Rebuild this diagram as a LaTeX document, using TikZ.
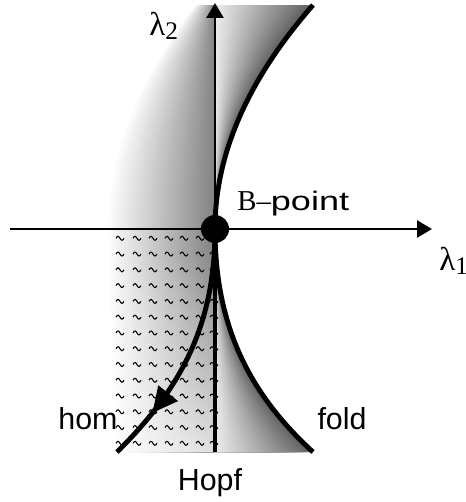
\documentclass[tikz,border=0pt]{standalone}
\usepackage{fontspec}
\setmainfont{Liberation Serif}
\setsansfont{Liberation Sans}
\usepackage{tikz}
\usetikzlibrary{arrows.meta,decorations.markings,fadings}
\newcommand{\lamsub}[1]{λ\raisebox{-3.5pt}{\fontsize{18}{18}\selectfont #1}}

\begin{document}
\begin{tikzpicture}[x=0.025cm, y=-0.025cm]
  \tikzstyle{axisarr}=[line width=1.9pt, -{Triangle[length=10.6pt,width=12pt]}]
  \tikzstyle{branch}=[line width=3.5pt]
  \tikzstyle{lab}=[font=\fontsize{21.6}{26}\selectfont\sffamily, inner sep=0pt, anchor=base]
  \tikzstyle{lam}=[font=\fontsize{23.5}{28}\selectfont, inner sep=0pt, anchor=base west]
  \tikzstyle{bdot}=[circle, fill=black, inner sep=0pt, minimum size=0.7cm]
  \tikzstyle{wave}=[line width=0.75pt]
  \useasboundingbox (0,0) rectangle (466,502);
  % end points
  \coordinate (B) at (215,229);
  \coordinate (xs) at (10,229);
  \coordinate (xe) at (432,229);
  \coordinate (ytop) at (215,3);
  \coordinate (hb) at (215,452);
  \coordinate (ft) at (313,5);
  \coordinate (fb) at (313,452);
  \coordinate (hm) at (117,452);
  % left band, white -> grey towards the axis
  \foreach \k in {0,...,29}{
    \pgfmathsetmacro\f{1-\k/30}
    \pgfmathsetmacro\g{48*\k/29}
    \fill[black!\g] ({215-20*\f},5) .. controls ({215-80*\f},79.7) and ({215-110*\f},154.3) .. ({215-110*\f},229)
      -- ({215-103*\f},452) -- (215,452) -- (215,5) -- cycle;
  }
  \fill[white, path fading=north, fill opacity=0.75] (100,250) rectangle (215,452);
  % right of the axis, dark at the fold -> light at the axis
  \foreach \k in {0,...,29}{
    \pgfmathsetmacro\f{1-\k/30}
    \pgfmathsetmacro\g{62-54*\k/29}
    \fill[black!\g] (B) .. controls (215,154.3) and ({215+32.7*\f},79.7) .. ({215+98*\f},5) -- (215,5) -- cycle;
    \fill[black!\g] (B) .. controls (215,320) and ({215+30*\f},390) .. ({215+98*\f},452) -- (hb) -- cycle;
  }
  % waves
  \foreach \x in {120,137,153,169,184,200,214}
    \foreach \y in {0,...,13}
      \draw[wave] ({\x-4},{238.3+15.77*\y}) sin ++(2,-2) cos ++(2,2) sin ++(2,2) cos ++(2,-2);
  % axes
  \draw[axisarr] (xs) -- (xe);
  \draw[axisarr] (B) -- (ytop);
  % bifurcation curves
  \draw[branch] (B) .. controls (215,154.3) and (247.7,79.7) .. (ft);
  \draw[branch] (B) .. controls (215,320) and (245,390) .. (fb);
  \draw[branch] (B) -- (hb);
  \draw[branch, postaction={decorate}, decoration={markings,
      mark=at position 0.79 with {\arrow{Triangle[length=18pt,width=17pt]}}}]
    (B) .. controls (215,320) and (185,385) .. (hm);
  \node[bdot] (Bpt) at (B) {};
  % labels
  \node[lam] (ltwo) at (149,35) {\lamsub{2}};
  \node[lam] (lone) at (439,270) {\lamsub{1}};
  \node[inner sep=0pt, anchor=base west] (bname) at (237,210)
    {\fontsize{20.5}{24}\selectfont B–\scalebox{1.35}[1]{\sffamily\fontsize{19}{22}\selectfont point}};
  \node[lab] (hom) at (88,429) {hom};
  \node[lab] (fold) at (342,429) {fold};
  \node[lab] (hopf) at (210,490) {Hopf};
\end{tikzpicture}
\end{document}
